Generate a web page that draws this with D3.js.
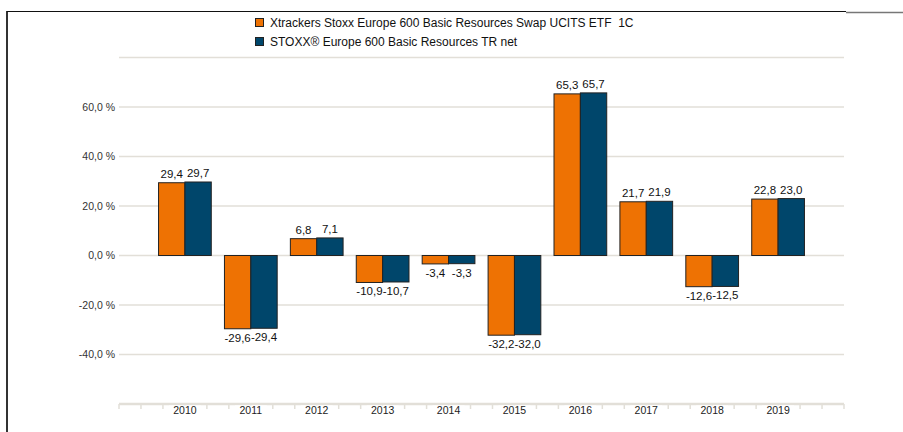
<!DOCTYPE html>
<html lang="de">
<head>
  <meta charset="UTF-8">
  <title>Xtrackers Stoxx Europe 600 Basic Resources</title>
  <script src="https://d3js.org/d3.v7.min.js"></script>
  <style>
    body { margin: 0; background: #fff; font-family: "Liberation Sans", Arial, sans-serif; }
    svg { display: block; }
    .legend text { white-space: pre; }
  </style>
</head>
<body>
  <div id="chart"></div>

  <script>
    // data
    const years = ["2010", "2011", "2012", "2013", "2014", "2015", "2016", "2017", "2018", "2019"];
    const etfValues = [29.4, -29.6, 6.8, -10.9, -3.4, -32.2, 65.3, 21.7, -12.6, 22.8];
    const indexValues = [29.7, -29.4, 7.1, -10.7, -3.3, -32.0, 65.7, 21.9, -12.5, 23.0];
    const seriesNames = ["Xtrackers Stoxx Europe 600 Basic Resources Swap UCITS ETF  1C", "STOXX® Europe 600 Basic Resources TR net"];
    const yTickLabels = [-40, -20, 0, 20, 40, 60];
    const gridValues = [-40, -20, 0, 20, 40, 60, 80];

    const colors = ["#ee7203", "#00466b"];
    const W = 903, H = 432;

    const svg = d3.select("#chart").append("svg")
      .attr("width", W).attr("height", H);

    // frame
    svg.append("line").attr("x1", 7).attr("x2", 7).attr("y1", 11).attr("y2", H)
      .attr("stroke", "#333").attr("stroke-width", 2);
    svg.append("line").attr("x1", 7).attr("x2", 846).attr("y1", 11.5).attr("y2", 11.5)
      .attr("stroke", "#111").attr("stroke-width", 1);
    svg.append("line").attr("x1", 846).attr("x2", W).attr("y1", 12.5).attr("y2", 12.5)
      .attr("stroke", "#777").attr("stroke-width", 1.5);

    // scales: x over category index, one empty slot either side
    const x = d3.scaleLinear().domain([-1, years.length]).range([119, 844]);
    const y = d3.scaleLinear().domain([-60, 80]).range([404, 57.5]);
    const step = x(1) - x(0);
    const barW = step * 0.4;

    const fmt = v => v.toFixed(1).replace(".", ",");

    // grid
    svg.append("g").selectAll("line")
      .data(gridValues).join("line")
      .attr("x1", x(-1)).attr("x2", x(years.length))
      .attr("y1", d => y(d)).attr("y2", d => y(d))
      .attr("stroke", "#e2dfd8").attr("stroke-width", 1.5);

    // y axis labels
    const yAxis = d3.axisLeft(y).tickValues(yTickLabels).tickSize(0).tickPadding(4)
      .tickFormat(d => fmt(d) + " %");
    svg.append("g").attr("transform", `translate(${x(-1)},0)`).call(yAxis)
      .call(g => g.select(".domain").remove())
      .call(g => g.selectAll("text").attr("font-family", "Liberation Sans, Arial, sans-serif")
        .attr("font-size", 10.5).attr("fill", "#333"));

    // bars
    const groups = svg.append("g").selectAll("g")
      .data(years).join("g");
    [etfValues, indexValues].forEach((vals, s) => {
      groups.append("rect")
        .attr("x", (d, i) => x(i) - barW + s * barW)
        .attr("y", (d, i) => y(Math.max(0, vals[i])))
        .attr("width", barW)
        .attr("height", (d, i) => Math.abs(y(vals[i]) - y(0)))
        .attr("fill", colors[s])
        .attr("stroke", "#222").attr("stroke-width", 1);
      groups.append("text")
        .attr("x", (d, i) => x(i) - barW / 2 + s * barW)
        .attr("y", (d, i) => vals[i] >= 0 ? y(vals[i]) - 5 : y(vals[i]) + 13)
        .attr("text-anchor", "middle")
        .attr("font-size", 11.5).attr("fill", "#111")
        .text((d, i) => fmt(vals[i]));
    });

    // category axis with minor ticks every third of a step
    const tickVals = d3.range(0, years.length * 3 + 4).map(k => -1 + k / 3);
    const xAxisG = svg.append("g").attr("transform", `translate(0,${y(-60)})`);
    xAxisG.append("line").attr("x1", x(-1)).attr("x2", x(years.length))
      .attr("stroke", "#e2dfd8").attr("stroke-width", 2.5);
    xAxisG.selectAll(".tk").data(tickVals).join("line")
      .attr("x1", d => x(d)).attr("x2", d => x(d))
      .attr("y1", 0).attr("y2", 5)
      .attr("stroke", "#e2dfd8").attr("stroke-width", 1.5);
    const lab = xAxisG.selectAll(".cat").data(years).join("g")
      .attr("transform", (d, i) => `translate(${x(i)},0)`);
    lab.append("rect").attr("x", -16).attr("y", 1.5).attr("width", 32).attr("height", 10).attr("fill", "#fff");
    lab.append("text").attr("y", 9.5).attr("text-anchor", "middle")
      .attr("font-size", 10.5).attr("fill", "#222").text(d => d);

    // legend
    const legend = svg.append("g").attr("class", "legend").attr("transform", "translate(255,0)");
    seriesNames.forEach((name, i) => {
      const ly = 23 + i * 19;
      legend.append("rect").attr("x", 0.5).attr("y", ly - 4.5).attr("width", 8).attr("height", 8)
        .attr("fill", colors[i]).attr("stroke", "#222").attr("stroke-width", 1);
      legend.append("text").attr("x", 15).attr("y", ly + 4)
        .attr("font-size", 12).attr("fill", "#111").text(name);
    });
  </script>
</body>
</html>
